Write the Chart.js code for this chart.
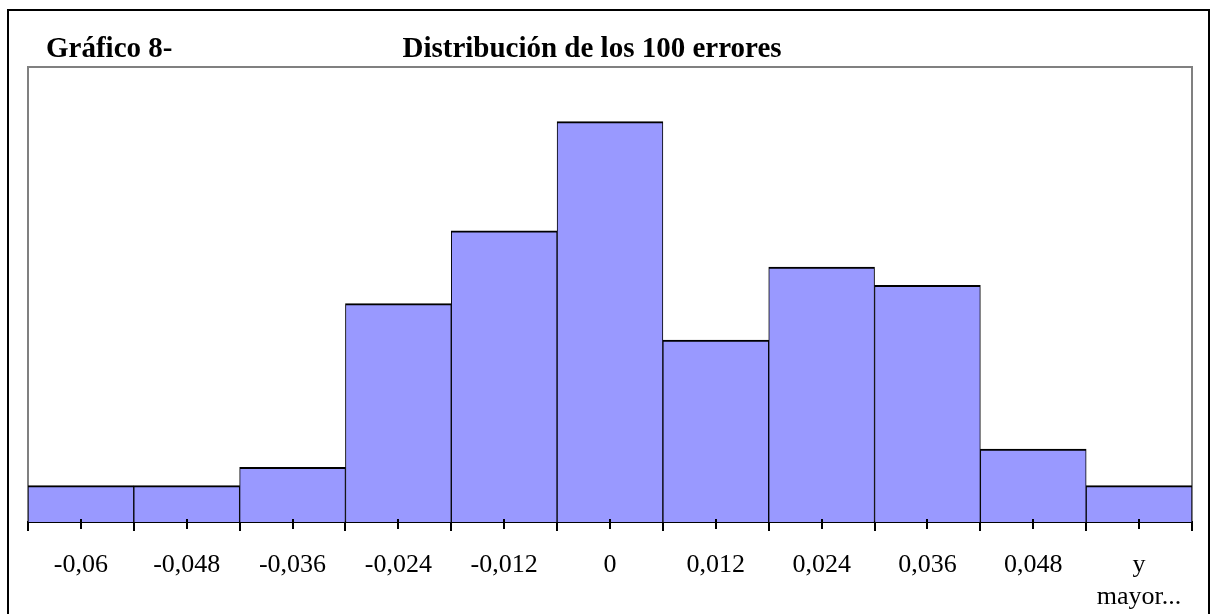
<!DOCTYPE html>
<html>
<head>
<meta charset="utf-8">
<script src="https://cdn.jsdelivr.net/npm/chart.js@4/dist/chart.umd.min.js"></script>
<style>
html,body{margin:0;padding:0;background:#fff;}
canvas{display:block;}
</style>
</head>
<body>
<canvas id="c" width="1211" height="614"></canvas>
<script>
const categories = ['-0,06','-0,048','-0,036','-0,024','-0,012','0','0,012','0,024','0,036','0,048',['y','mayor...']];
const frequencies = [2,2,3,12,16,22,10,14,13,4,2];
const chartLabel = 'Gráfico 8-';
const chartTitle = 'Distribución de los 100 errores';
const yMax = 25;

const decor = {
  id: 'decor',
  beforeDraw(chart) {
    const ctx = chart.ctx;
    const a = chart.chartArea;
    ctx.save();
    ctx.fillStyle = '#fff';
    ctx.fillRect(0, 0, chart.width, chart.height);
    // outer black frame
    ctx.strokeStyle = '#000';
    ctx.lineWidth = 2;
    ctx.beginPath();
    ctx.moveTo(8, 630);
    ctx.lineTo(8, 10);
    ctx.lineTo(1209, 10);
    ctx.lineTo(1209, 630);
    ctx.stroke();
    // plot area gray frame
    ctx.strokeStyle = '#808080';
    ctx.lineWidth = 2;
    ctx.beginPath();
    ctx.moveTo(a.left, a.bottom);
    ctx.lineTo(a.left, a.top);
    ctx.lineTo(a.right, a.top);
    ctx.lineTo(a.right, a.bottom);
    ctx.stroke();
    // titles
    ctx.fillStyle = '#000';
    ctx.font = 'bold 29px "Liberation Serif", "Times New Roman", serif';
    ctx.textBaseline = 'alphabetic';
    ctx.textAlign = 'left';
    ctx.fillText(chartLabel, 46, 57);
    ctx.textAlign = 'center';
    ctx.fillText(chartTitle, 592, 57);
    ctx.restore();
  },
  afterDraw(chart) {
    const ctx = chart.ctx;
    const x = chart.scales.x;
    const a = chart.chartArea;
    ctx.save();
    ctx.strokeStyle = '#000';
    ctx.lineWidth = 2;
    ctx.beginPath();
    for (let i = 0; i < categories.length; i++) {
      const px = Math.round(x.getPixelForValue(i));
      ctx.moveTo(px, a.bottom - 3);
      ctx.lineTo(px, a.bottom + 7);
    }
    ctx.stroke();
    ctx.restore();
  }
};

new Chart(document.getElementById('c'), {
  type: 'bar',
  data: {
    labels: categories,
    datasets: [{
      data: frequencies,
      backgroundColor: '#9999FF',
      borderColor: '#000',
      borderWidth: {top: 2, left: 1, right: 1, bottom: 0},
      borderSkipped: 'start',
      categoryPercentage: 1,
      barPercentage: 1
    }]
  },
  options: {
    responsive: false,
    animation: false,
    devicePixelRatio: 1,
    layout: {padding: {top: 67, left: 28, right: 19, bottom: 0}},
    plugins: {legend: {display: false}, title: {display: false}, tooltip: {enabled: false}},
    scales: {
      y: {display: false, min: 0, max: yMax},
      x: {
        offset: true,
        grid: {display: true, offset: true, drawOnChartArea: false, drawTicks: true, tickLength: 9, color: '#000', lineWidth: 2},
        border: {display: true, color: '#000', width: 2},
        ticks: {
          color: '#000',
          padding: 19,
          maxRotation: 0,
          autoSkip: false,
          font: {family: '"Liberation Serif", "Times New Roman", serif', size: 26, lineHeight: 1.2}
        },
        afterFit(scale) { scale.height = 92; }
      }
    }
  },
  plugins: [decor]
});
</script>
</body>
</html>
